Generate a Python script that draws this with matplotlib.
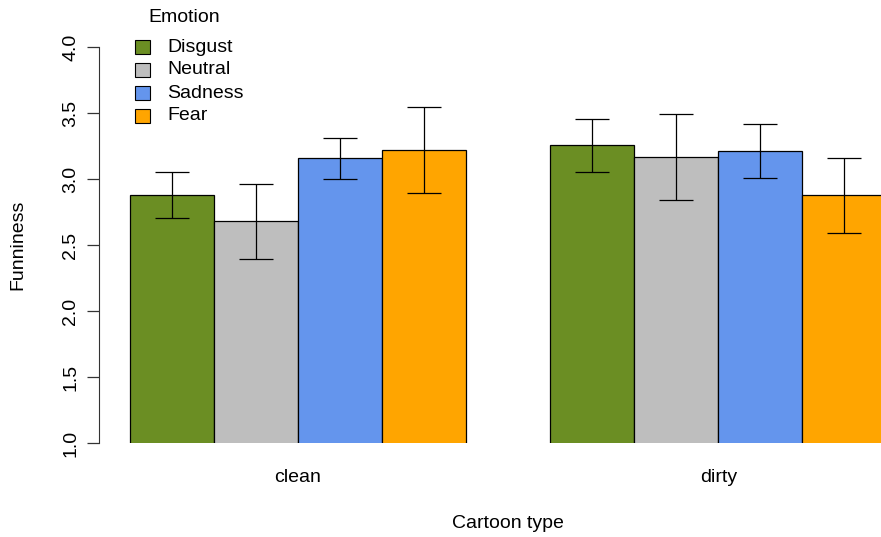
import matplotlib
matplotlib.use("Agg")
import matplotlib.pyplot as plt
import numpy as np

plt.rcParams["font.family"] = ["Liberation Sans", "DejaVu Sans"]

cartoon_types = ["clean", "dirty"]
emotions = ["Disgust", "Neutral", "Sadness", "Fear"]
colors = ["#6B8E23", "#BEBEBE", "#6495ED", "#FFA500"]

# mean funniness per emotion, one list per cartoon type
means_clean = [2.88, 2.68, 3.157, 3.222]
means_dirty = [3.255, 3.167, 3.212, 2.877]
# half-width of error bars
err_clean = [0.175, 0.285, 0.157, 0.326]
err_dirty = [0.202, 0.323, 0.202, 0.283]

yticks = [1.0, 1.5, 2.0, 2.5, 3.0, 3.5, 4.0]

FS = 14
W, H = 881, 537
fig = plt.figure(figsize=(W / 100, H / 100), dpi=100)

# plot region in pixels: left axis at 98, y=4 at 47, y=1 at 443
left_px, right_px, top_px, bot_px = 98.5, 881, 47, 443
ax = fig.add_axes([left_px / W, 1 - bot_px / H, (right_px - left_px) / W, (bot_px - top_px) / H])

# R barplot(beside=TRUE): bar unit = 84 px, x=0 at pixel 45
unit, x0 = 84.1, 45.5
ax.set_xlim((left_px - x0) / unit, (right_px - x0) / unit)
ax.set_ylim(1, 4)

group_means = [means_clean, means_dirty]
group_errs = [err_clean, err_dirty]
centers = []
for g, (m, e) in enumerate(zip(group_means, group_errs)):
    start = 1 + g * 5
    xs = start + np.arange(len(emotions)) + 0.5
    centers.append(xs.mean())
    ax.bar(xs, m, width=1.0, bottom=0, color=colors, edgecolor="black", linewidth=0.9)
    ax.errorbar(xs, m, yerr=e, fmt="none", ecolor="black", elinewidth=0.9,
                capsize=12, capthick=0.9)

for s in ["top", "right", "bottom"]:
    ax.spines[s].set_visible(False)
ax.spines["left"].set_color("#333333")
ax.set_xticks([])
ax.set_yticks(yticks)
ax.set_yticklabels([f"{v:.1f}" for v in yticks], rotation=90, va="center", fontsize=FS)
ax.tick_params(axis="y", length=9, width=0.9, color="#333333", pad=5)

for c, name in zip(centers, cartoon_types):
    px = x0 + c * unit
    fig.text(px / W, 1 - 478 / H, name, ha="center", va="center", fontsize=FS)

fig.text(508 / W, 1 - 524 / H, "Cartoon type", ha="center", va="center", fontsize=FS)
fig.text(18 / W, 1 - 245 / H, "Funniness", ha="center", va="center", rotation=90, fontsize=FS)

# legend
fig.text(184 / W, 1 - 17 / H, "Emotion", ha="center", va="center", fontsize=FS)
for i, (name, col) in enumerate(zip(emotions, colors)):
    y = 47 + i * 23
    fig.patches.append(plt.Rectangle((135 / W, 1 - (y + 7) / H), 15 / W, 14 / H,
                                     transform=fig.transFigure, facecolor=col,
                                     edgecolor="black", linewidth=0.8))
    fig.text(167 / W, 1 - y / H, name, ha="left", va="center", fontsize=FS)

fig.savefig("out.png", dpi=100)
